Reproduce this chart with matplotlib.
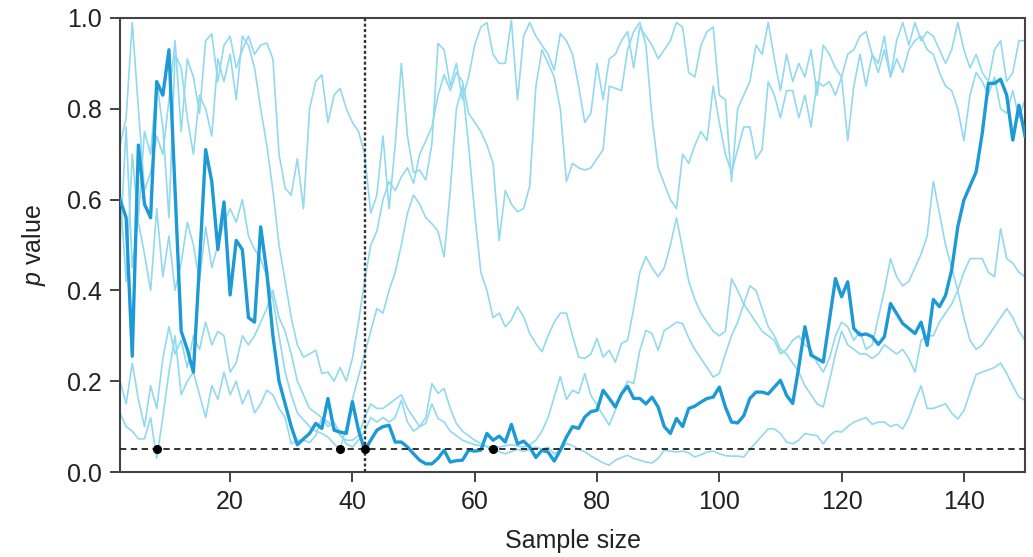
import numpy as np
import matplotlib
matplotlib.use("Agg")
import matplotlib.pyplot as plt

plt.rcParams['font.family'] = ['Liberation Sans', 'DejaVu Sans']
plt.rcParams['mathtext.fontset'] = 'custom'
plt.rcParams['mathtext.it'] = 'Liberation Sans:italic'
plt.rcParams['mathtext.rm'] = 'Liberation Sans'

# sample sizes 2..150
sample_size = np.arange(2, 151)

# highlighted run
p_main = [
    0.60, 0.56, 0.255, 0.72, 0.59, 0.56, 0.86, 0.83, 0.93, 0.62,
    0.31, 0.27, 0.22, 0.46, 0.71, 0.64, 0.49, 0.595, 0.39, 0.51,
    0.49, 0.34, 0.33, 0.54, 0.44, 0.30, 0.20, 0.15, 0.10, 0.06,
    0.073, 0.085, 0.107, 0.096, 0.162, 0.092, 0.088, 0.085, 0.155, 0.092,
    0.048, 0.07, 0.092, 0.10, 0.103, 0.066, 0.066, 0.055, 0.04, 0.026,
    0.018, 0.018, 0.03, 0.048, 0.022, 0.025, 0.026, 0.048, 0.046, 0.048,
    0.085, 0.07, 0.079, 0.066, 0.105, 0.062, 0.068, 0.055, 0.032, 0.048,
    0.044, 0.024, 0.048, 0.077, 0.10, 0.096, 0.121, 0.133, 0.136, 0.18,
    0.162, 0.143, 0.172, 0.189, 0.162, 0.162, 0.15, 0.165, 0.143, 0.10,
    0.085, 0.118, 0.10, 0.14, 0.145, 0.154, 0.162, 0.165, 0.187, 0.143,
    0.11, 0.108, 0.124, 0.162, 0.176, 0.176, 0.172, 0.187, 0.202, 0.169,
    0.151, 0.231, 0.32, 0.257, 0.25, 0.242, 0.334, 0.426, 0.386, 0.419,
    0.316, 0.302, 0.304, 0.298, 0.281, 0.298, 0.371, 0.349, 0.327, 0.316,
    0.305, 0.33, 0.279, 0.38, 0.364, 0.389, 0.445, 0.54, 0.599, 0.63,
    0.661, 0.746, 0.856, 0.856, 0.865, 0.83, 0.731, 0.808, 0.74,
]

# other runs (light lines)
p_run_a = [
    0.72, 0.78, 0.99, 0.80, 0.62, 0.66, 0.74, 0.70, 0.82, 0.95,
    0.75, 0.91, 0.87, 0.79, 0.95, 0.965, 0.86, 0.94, 0.96, 0.89,
    0.93, 0.96, 0.92, 0.94, 0.945, 0.91, 0.70, 0.625, 0.61, 0.69,
    0.58, 0.80, 0.86, 0.875, 0.77, 0.83, 0.845, 0.80, 0.77, 0.75,
    0.70, 0.57, 0.61, 0.74, 0.58, 0.72, 0.90, 0.74, 0.66, 0.665,
    0.643, 0.723, 0.944, 0.93, 0.85, 0.90, 0.82, 0.87, 0.94, 0.98,
    0.99, 0.92, 0.90, 0.90, 0.995, 0.82, 0.96, 0.99, 0.96, 0.94,
    0.92, 0.885, 0.966, 0.95, 0.92, 0.85, 0.77, 0.79, 0.90, 0.82,
    0.91, 0.92, 0.95, 0.97, 0.89, 0.98, 0.96, 0.94, 0.91, 0.93,
    0.95, 0.99, 0.98, 0.88, 0.87, 0.94, 0.97, 0.98, 0.83, 0.82,
    0.64, 0.80, 0.83, 0.86, 0.94, 0.92, 0.99, 0.91, 0.84, 0.92,
    0.86, 0.90, 0.87, 0.93, 0.83, 0.94, 0.92, 0.89, 0.87, 0.92,
    0.93, 0.96, 0.97, 0.92, 0.90, 0.96, 0.87, 0.95, 0.99, 0.94,
    0.99, 0.95, 0.97, 0.96, 0.93, 0.90, 0.93, 0.99, 0.93, 0.89,
    0.92, 0.88, 0.86, 0.93, 0.95, 0.86, 0.88, 0.95, 0.95,
]

p_run_b = [
    0.50, 0.76, 0.45, 0.56, 0.75, 0.70, 0.86, 0.76, 0.56, 0.92,
    0.89, 0.78, 0.70, 0.83, 0.80, 0.74, 0.91, 0.86, 0.92, 0.82,
    0.96, 0.94, 0.89, 0.80, 0.72, 0.62, 0.50, 0.42, 0.34, 0.28,
    0.253, 0.26, 0.268, 0.217, 0.22, 0.20, 0.23, 0.20, 0.25, 0.33,
    0.42, 0.50, 0.53, 0.60, 0.64, 0.62, 0.65, 0.67, 0.636, 0.70,
    0.73, 0.76, 0.83, 0.875, 0.84, 0.88, 0.86, 0.79, 0.77, 0.75,
    0.72, 0.68, 0.51, 0.62, 0.59, 0.573, 0.58, 0.63, 0.85, 0.93,
    0.90, 0.87, 0.80, 0.64, 0.68, 0.67, 0.665, 0.67, 0.69, 0.71,
    0.85, 0.845, 0.84, 0.93, 0.97, 0.99, 0.94, 0.78, 0.67, 0.635,
    0.60, 0.58, 0.70, 0.68, 0.72, 0.75, 0.73, 0.85, 0.77, 0.70,
    0.66, 0.71, 0.76, 0.76, 0.69, 0.71, 0.86, 0.83, 0.78, 0.84,
    0.84, 0.78, 0.83, 0.76, 0.86, 0.85, 0.86, 0.83, 0.87, 0.73,
    0.85, 0.92, 0.85, 0.92, 0.88, 0.93, 0.87, 0.91, 0.88, 0.93,
    0.95, 0.96, 0.93, 0.92, 0.88, 0.85, 0.84, 0.80, 0.73, 0.83,
    0.88, 0.86, 0.83, 0.87, 0.80, 0.79, 0.84, 0.78, 0.82,
]

p_run_c = [
    0.13, 0.10, 0.09, 0.073, 0.073, 0.12, 0.03, 0.12, 0.22, 0.30,
    0.17, 0.20, 0.22, 0.17, 0.12, 0.19, 0.16, 0.22, 0.17, 0.20,
    0.15, 0.18, 0.13, 0.15, 0.18, 0.17, 0.14, 0.12, 0.062, 0.07,
    0.07, 0.065, 0.08, 0.12, 0.10, 0.11, 0.085, 0.062, 0.055, 0.07,
    0.09, 0.12, 0.11, 0.12, 0.11, 0.12, 0.158, 0.11, 0.09, 0.10,
    0.107, 0.15, 0.118, 0.11, 0.09, 0.08, 0.07, 0.065, 0.06, 0.058,
    0.056, 0.057, 0.055, 0.058, 0.06, 0.057, 0.055, 0.06, 0.07, 0.09,
    0.12, 0.165, 0.21, 0.16, 0.18, 0.173, 0.217, 0.169, 0.147, 0.125,
    0.103, 0.136, 0.173, 0.20, 0.195, 0.268, 0.312, 0.305, 0.268, 0.312,
    0.32, 0.33, 0.327, 0.295, 0.27, 0.25, 0.23, 0.209, 0.217, 0.26,
    0.30, 0.33, 0.37, 0.41, 0.40, 0.36, 0.32, 0.30, 0.27, 0.26,
    0.24, 0.22, 0.19, 0.17, 0.15, 0.143, 0.20, 0.26, 0.31, 0.28,
    0.27, 0.26, 0.26, 0.25, 0.26, 0.28, 0.27, 0.26, 0.27, 0.25,
    0.22, 0.29, 0.30, 0.30, 0.33, 0.35, 0.37, 0.40, 0.44, 0.47,
    0.47, 0.47, 0.44, 0.43, 0.536, 0.47, 0.46, 0.44, 0.43,
]

p_run_d = [
    0.62, 0.42, 0.70, 0.55, 0.48, 0.40, 0.58, 0.43, 0.52, 0.40,
    0.46, 0.55, 0.50, 0.42, 0.54, 0.45, 0.50, 0.55, 0.58, 0.55,
    0.60, 0.52, 0.49, 0.47, 0.43, 0.38, 0.30, 0.22, 0.17, 0.13,
    0.115, 0.10, 0.09, 0.085, 0.077, 0.062, 0.05, 0.10, 0.16, 0.21,
    0.26, 0.31, 0.36, 0.35, 0.40, 0.44, 0.50, 0.57, 0.61, 0.59,
    0.56, 0.547, 0.53, 0.474, 0.62, 0.80, 0.85, 0.72, 0.57, 0.44,
    0.40, 0.34, 0.35, 0.32, 0.335, 0.364, 0.342, 0.305, 0.283, 0.265,
    0.30, 0.33, 0.35, 0.35, 0.30, 0.253, 0.25, 0.26, 0.294, 0.253,
    0.268, 0.242, 0.283, 0.29, 0.36, 0.44, 0.474, 0.45, 0.43, 0.45,
    0.50, 0.56, 0.49, 0.42, 0.38, 0.35, 0.33, 0.31, 0.30, 0.31,
    0.426, 0.40, 0.37, 0.35, 0.33, 0.31, 0.30, 0.29, 0.26, 0.27,
    0.29, 0.30, 0.28, 0.27, 0.24, 0.22, 0.25, 0.30, 0.33, 0.32,
    0.29, 0.31, 0.27, 0.28, 0.34, 0.40, 0.47, 0.43, 0.41, 0.42,
    0.45, 0.48, 0.52, 0.64, 0.57, 0.50, 0.45, 0.40, 0.34, 0.29,
    0.27, 0.28, 0.30, 0.32, 0.34, 0.36, 0.34, 0.31, 0.29,
]

p_run_e = [
    0.20, 0.15, 0.24, 0.16, 0.10, 0.19, 0.14, 0.25, 0.32, 0.26,
    0.29, 0.23, 0.30, 0.27, 0.33, 0.28, 0.31, 0.30, 0.22, 0.24,
    0.30, 0.28, 0.30, 0.33, 0.36, 0.40, 0.34, 0.31, 0.26, 0.20,
    0.17, 0.14, 0.13, 0.12, 0.11, 0.10, 0.08, 0.07, 0.07, 0.08,
    0.12, 0.15, 0.14, 0.14, 0.15, 0.16, 0.17, 0.14, 0.12, 0.10,
    0.12, 0.195, 0.173, 0.184, 0.14, 0.107, 0.09, 0.08, 0.07, 0.063,
    0.056, 0.05, 0.045, 0.04, 0.045, 0.05, 0.045, 0.05, 0.055, 0.05,
    0.055, 0.04, 0.048, 0.063, 0.058, 0.05, 0.045, 0.035, 0.028, 0.02,
    0.015, 0.026, 0.032, 0.037, 0.03, 0.026, 0.022, 0.02, 0.03, 0.048,
    0.046, 0.044, 0.046, 0.042, 0.033, 0.038, 0.044, 0.046, 0.04, 0.036,
    0.035, 0.035, 0.033, 0.05, 0.065, 0.08, 0.095, 0.095, 0.085, 0.066,
    0.062, 0.07, 0.085, 0.082, 0.08, 0.062, 0.08, 0.09, 0.088, 0.10,
    0.11, 0.115, 0.12, 0.105, 0.11, 0.11, 0.10, 0.105, 0.095, 0.12,
    0.157, 0.19, 0.14, 0.14, 0.145, 0.15, 0.13, 0.117, 0.135, 0.175,
    0.215, 0.22, 0.225, 0.23, 0.24, 0.217, 0.19, 0.165, 0.158,
]

light_runs = [p_run_a, p_run_b, p_run_c, p_run_d, p_run_e]

# first sample size where each run drops to the threshold
first_hit = [8, 38, 42, 63]
alpha_level = 0.05
stop_at = 42

fig = plt.figure(figsize=(10.33, 5.57), dpi=100)
ax = fig.add_axes([0.1162, 0.1526, 0.8761, 0.8151])

for run in light_runs:
    ax.plot(sample_size, run, color='#90d9ef', lw=1.2, zorder=2)
ax.plot(sample_size, p_main, color='#1d9ad6', lw=2.4, zorder=3)

ax.axhline(alpha_level, color='#222222', lw=1.3, ls=(0, (3.5, 2.5)), zorder=4)
ax.axvline(stop_at, color='#333333', lw=1.7, ls=(0, (1.3, 1.0)), zorder=4)
ax.plot(first_hit, [alpha_level] * len(first_hit), 'o', color='black',
        ms=5.5, zorder=5)

ax.set_xlim(2, 150)
ax.set_ylim(0, 1)
ax.set_xticks([20, 40, 60, 80, 100, 120, 140])
ax.set_yticks([0.0, 0.2, 0.4, 0.6, 0.8, 1.0])
ax.set_yticklabels(['0.0', '0.2', '0.4', '0.6', '0.8', '1.0'])
ax.tick_params(axis='both', which='both', direction='out', length=7,
               width=1.3, color='#333333', labelsize=18, pad=6,
               labelcolor='#222222')
for s in ax.spines.values():
    s.set_color('#444444')
    s.set_linewidth(1.5)

ax.set_xlabel('Sample size', fontsize=18, color='#222222', labelpad=11)
ax.set_ylabel(r'$p$ value', fontsize=18, color='#222222', labelpad=14)

fig.savefig('out.png', dpi=100)
